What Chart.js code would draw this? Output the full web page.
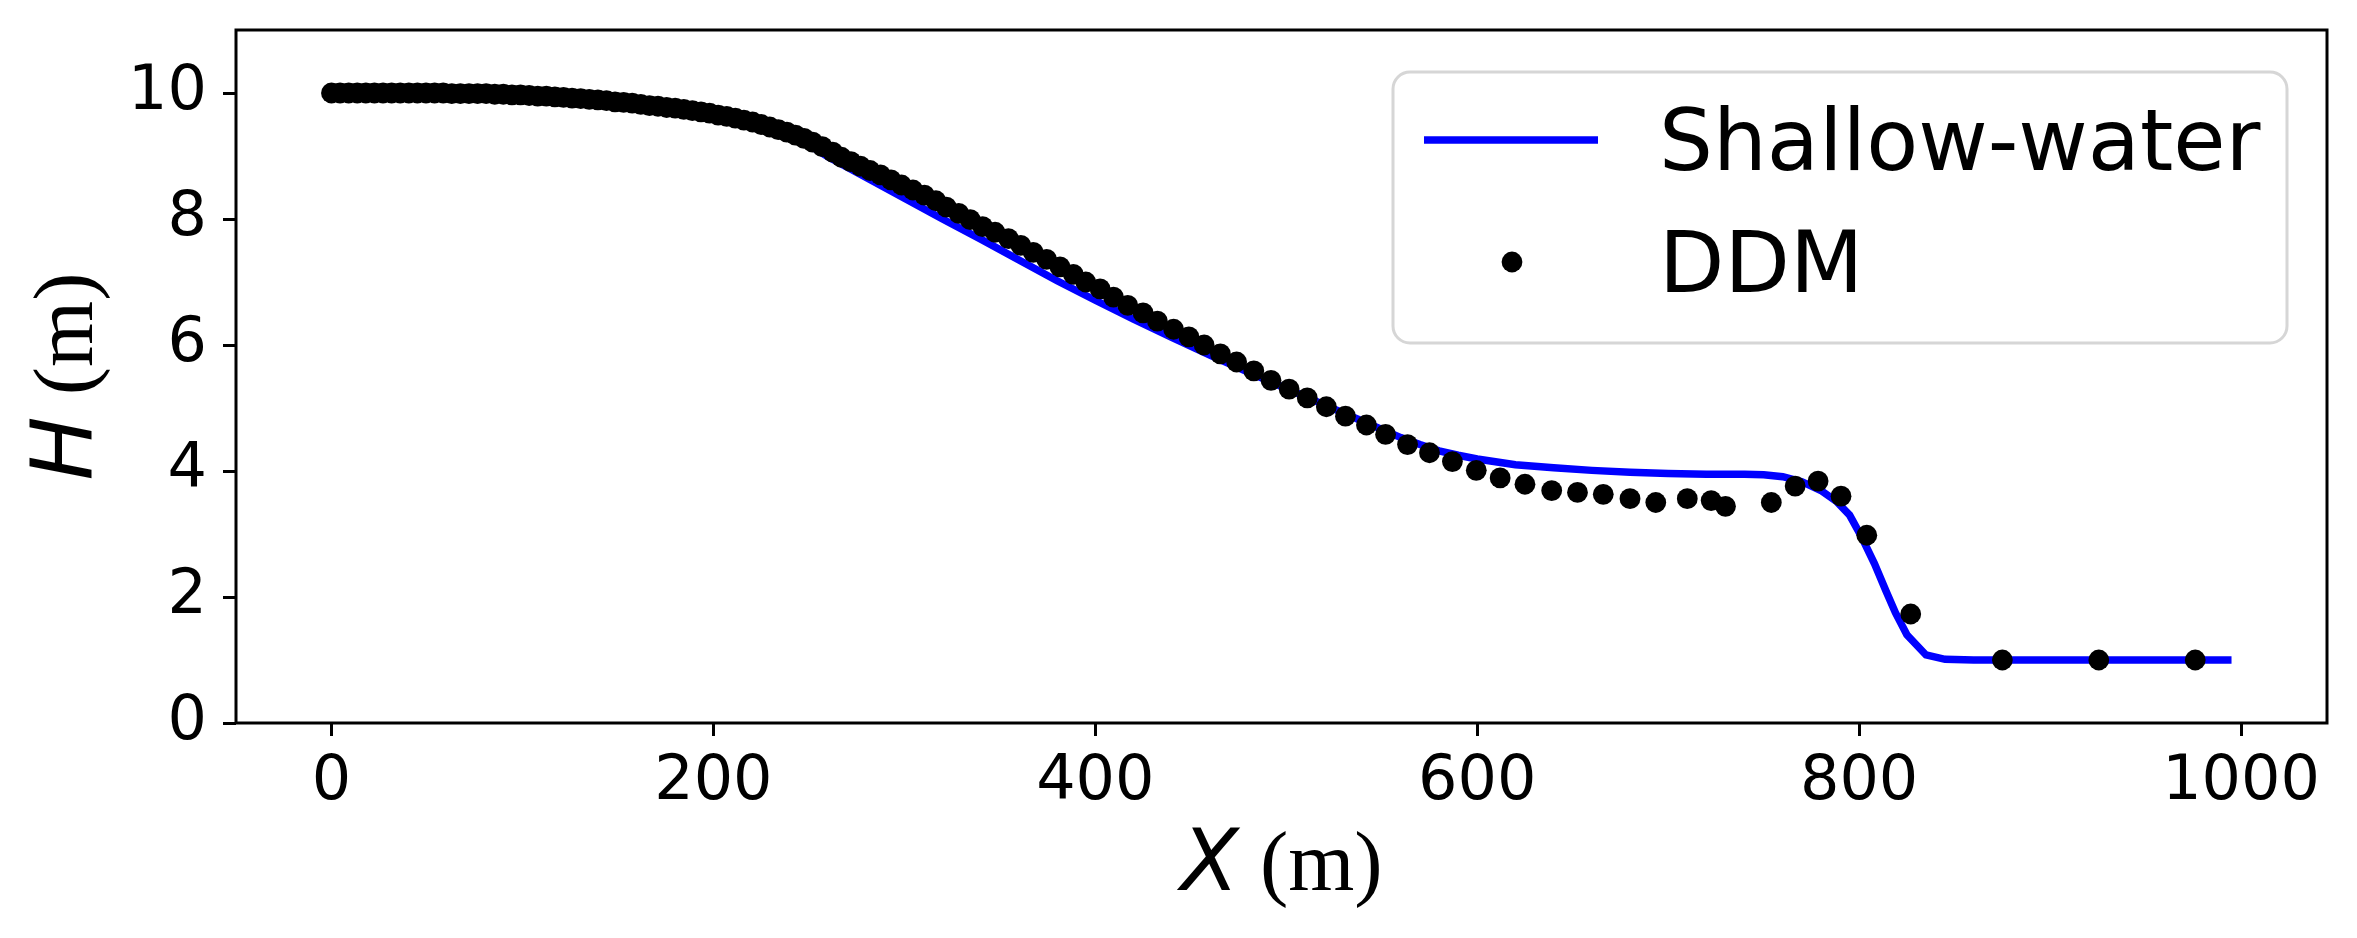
<!DOCTYPE html>
<html>
<head>
<meta charset="utf-8">
<script src="https://cdn.jsdelivr.net/npm/chart.js@4.4.1/dist/chart.umd.min.js"></script>
<style>
  html, body { margin: 0; padding: 0; background: #fff; }
  #wrap { width: 2357px; height: 938px; position: relative; }
</style>
</head>
<body>
<div id="wrap"><canvas id="damBreak"></canvas></div>
<script>
// ─── Data ───────────────────────────────────

const xTicks = [0, 200, 400, 600, 800, 1000];
const yTicks = [0, 2, 4, 6, 8, 10];

// Shallow-water solution
const swX = [0, 20, 40, 60, 80, 100, 120, 140, 160, 180, 200, 220, 240, 260, 280, 300, 320, 340, 360, 380,
             400, 420, 440, 460, 480, 500, 520, 540, 560, 570, 580, 590, 600, 620, 640, 660, 680, 700, 720, 740,
             750, 760, 770, 780, 788, 795, 801, 808, 814, 819, 825, 835, 845, 860, 900, 950, 995];
const swH = [10.00, 10.00, 10.00, 10.00, 9.99, 9.97, 9.94, 9.89, 9.83, 9.76, 9.67, 9.54, 9.36, 8.99, 8.66, 8.33, 8.00, 7.68, 7.35, 7.02,
             6.71, 6.41, 6.12, 5.84, 5.57, 5.31, 5.05, 4.79, 4.53, 4.42, 4.32, 4.25, 4.19, 4.10, 4.05, 4.01, 3.98, 3.96, 3.95, 3.95,
             3.94, 3.91, 3.83, 3.69, 3.52, 3.30, 2.97, 2.53, 2.10, 1.75, 1.40, 1.08, 1.01, 1.00, 1.00, 1.00, 1.00];

// DDM points
const ddmX = [0, 4.5, 9, 13.5, 18, 22.5, 27, 31.5, 36, 40.5, 45, 49.5, 54, 58.5, 63, 67.5, 72, 76.5, 81, 85.5,
              90, 94.5, 99, 103.5, 108, 112.5, 117, 121.5, 126, 130.5, 135, 139.5, 144, 148.5, 153, 157.5, 162, 166.5, 171, 175.5,
              180, 184.5, 189, 193.5, 198, 202.5, 207, 211.5, 216, 220.5, 225, 229.5, 234, 238.5, 243, 247.5, 252, 257, 262.5, 267,
              272, 277, 282, 287.5, 293, 298.5, 304.5, 310.5, 316.5, 322, 328.5, 334.5, 341, 347.5, 354.5, 361, 367.5, 374.5, 381.5, 388.5,
              395, 402.5, 409.5, 417, 425, 432.5, 441, 449, 457, 465.5, 474, 483, 492, 501.5, 511, 521, 531, 542, 552, 563.5,
              575, 587, 599.5, 612, 625, 639, 652.5, 666, 680, 693.5, 710, 722.5, 730, 754, 766.5, 778.5, 790.5, 804, 827, 875,
              925.5, 976];
const ddmH = [10.00, 10.00, 10.00, 10.00, 10.00, 10.00, 10.00, 10.00, 10.00, 10.00, 10.00, 10.00, 10.00, 10.00, 9.99, 9.99, 9.99, 9.99, 9.99, 9.98,
              9.98, 9.97, 9.97, 9.96, 9.95, 9.95, 9.94, 9.93, 9.92, 9.91, 9.90, 9.89, 9.88, 9.86, 9.85, 9.84, 9.82, 9.80, 9.79, 9.77,
              9.76, 9.74, 9.72, 9.70, 9.68, 9.65, 9.63, 9.60, 9.57, 9.54, 9.50, 9.46, 9.42, 9.38, 9.33, 9.28, 9.22, 9.15, 9.06, 8.98,
              8.91, 8.84, 8.77, 8.70, 8.62, 8.54, 8.46, 8.38, 8.29, 8.19, 8.09, 7.99, 7.88, 7.79, 7.69, 7.58, 7.47, 7.36, 7.24, 7.12,
              7.00, 6.89, 6.76, 6.63, 6.51, 6.38, 6.25, 6.13, 6.00, 5.86, 5.73, 5.59, 5.44, 5.30, 5.16, 5.02, 4.87, 4.73, 4.58, 4.42,
              4.29, 4.15, 4.01, 3.89, 3.79, 3.69, 3.66, 3.63, 3.56, 3.50, 3.56, 3.53, 3.44, 3.50, 3.76, 3.84, 3.60, 2.98, 1.73, 1.00,
              1.00, 1.00];

const BLUE = '#0000ff';
const SANS = '"DejaVu Sans"';
const SERIF = '"Liberation Serif"';
const TICK_FONT = 62;
const BIG_FONT = 85;
const LINE_W = 7.5;
const DOT_R = 10.4;

// ─── Frame, legend and axis titles ─────────

const decorations = {
    id: 'decorations',
    afterDraw(chart) {
        const { ctx, chartArea: a } = chart;
        ctx.save();

        // axes box
        ctx.strokeStyle = '#000';
        ctx.lineWidth = 3;
        ctx.strokeRect(a.left, a.top, a.right - a.left, a.bottom - a.top);

        // legend
        const lx = 1393, ly = 72, lw = 894, lh = 271;
        ctx.beginPath();
        ctx.roundRect(lx, ly, lw, lh, 17);
        ctx.fillStyle = 'rgba(255,255,255,0.8)';
        ctx.fill();
        ctx.strokeStyle = '#d6d6d6';
        ctx.lineWidth = 3;
        ctx.stroke();

        ctx.beginPath();
        ctx.moveTo(1424, 140);
        ctx.lineTo(1598, 140);
        ctx.strokeStyle = BLUE;
        ctx.lineWidth = LINE_W;
        ctx.stroke();

        ctx.beginPath();
        ctx.arc(1512, 262, DOT_R, 0, Math.PI * 2);
        ctx.fillStyle = '#000';
        ctx.fill();

        ctx.font = `${BIG_FONT}px ${SANS}`;
        ctx.textAlign = 'left';
        ctx.textBaseline = 'alphabetic';
        ctx.fillText(chart.data.datasets[1].label, 1659, 170);
        ctx.fillText(chart.data.datasets[0].label, 1659, 292);

        // axis titles: italic symbol + serif unit
        const drawTitle = (sym, unit, cx, baseY) => {
            ctx.font = `italic ${BIG_FONT}px ${SANS}`;
            const w1 = ctx.measureText(sym).width;
            ctx.font = `${BIG_FONT}px ${SERIF}`;
            const w2 = ctx.measureText(' ' + unit).width;
            let x = cx - (w1 + w2) / 2;
            ctx.font = `italic ${BIG_FONT}px ${SANS}`;
            ctx.fillText(sym, x, baseY);
            ctx.font = `${BIG_FONT}px ${SERIF}`;
            ctx.fillText(' ' + unit, x + w1, baseY);
        };

        ctx.fillStyle = '#000';
        drawTitle('X', '(m)', (a.left + a.right) / 2, 890);

        ctx.translate(92, (a.top + a.bottom) / 2);
        ctx.rotate(-Math.PI / 2);
        drawTitle('H', '(m)', 0, 0);

        ctx.restore();
    }
};

const noEdgePadding = s => {
    s.paddingTop = 0;
    s.paddingBottom = 0;
    s.paddingLeft = 0;
    s.paddingRight = 0;
};

// ─── Chart ──────────────────────────────────

new Chart(document.getElementById('damBreak').getContext('2d'), {
    type: 'scatter',
    data: {
        datasets: [
            {
                label: 'DDM',
                data: ddmX.map((x, i) => ({ x, y: ddmH[i] })),
                backgroundColor: '#000',
                borderWidth: 0,
                pointRadius: DOT_R,
                pointHoverRadius: DOT_R,
                order: 0
            },
            {
                label: 'Shallow-water',
                data: swX.map((x, i) => ({ x, y: swH[i] })),
                showLine: true,
                borderColor: BLUE,
                borderWidth: LINE_W,
                pointRadius: 0,
                tension: 0,
                order: 1
            }
        ]
    },
    options: {
        responsive: true,
        maintainAspectRatio: false,
        animation: false,
        layout: { padding: { left: 0, top: 30, right: 30, bottom: 0 } },
        plugins: { legend: { display: false }, tooltip: { enabled: false } },
        scales: {
            x: {
                type: 'linear',
                min: -50,
                max: 1045,
                afterBuildTicks: s => { s.ticks = xTicks.map(v => ({ value: v })); },
                afterFit: s => { s.height = 215; noEdgePadding(s); },
                ticks: {
                    color: '#000',
                    font: { family: 'DejaVu Sans', size: TICK_FONT },
                    padding: 10,
                    maxRotation: 0,
                    callback: v => String(v)
                },
                grid: { display: true, drawOnChartArea: false, drawTicks: true, tickLength: 13, tickWidth: 3, lineWidth: 3, color: '#000' },
                border: { display: false }
            },
            y: {
                type: 'linear',
                min: 0,
                max: 11,
                afterBuildTicks: s => { s.ticks = yTicks.map(v => ({ value: v })); },
                afterFit: s => { s.width = 236; noEdgePadding(s); },
                ticks: {
                    color: '#000',
                    font: { family: 'DejaVu Sans', size: TICK_FONT },
                    padding: 16,
                    callback: v => String(v)
                },
                grid: { display: true, drawOnChartArea: false, drawTicks: true, tickLength: 13, tickWidth: 3, lineWidth: 3, color: '#000' },
                border: { display: false }
            }
        }
    },
    plugins: [decorations]
});
</script>
</body>
</html>
